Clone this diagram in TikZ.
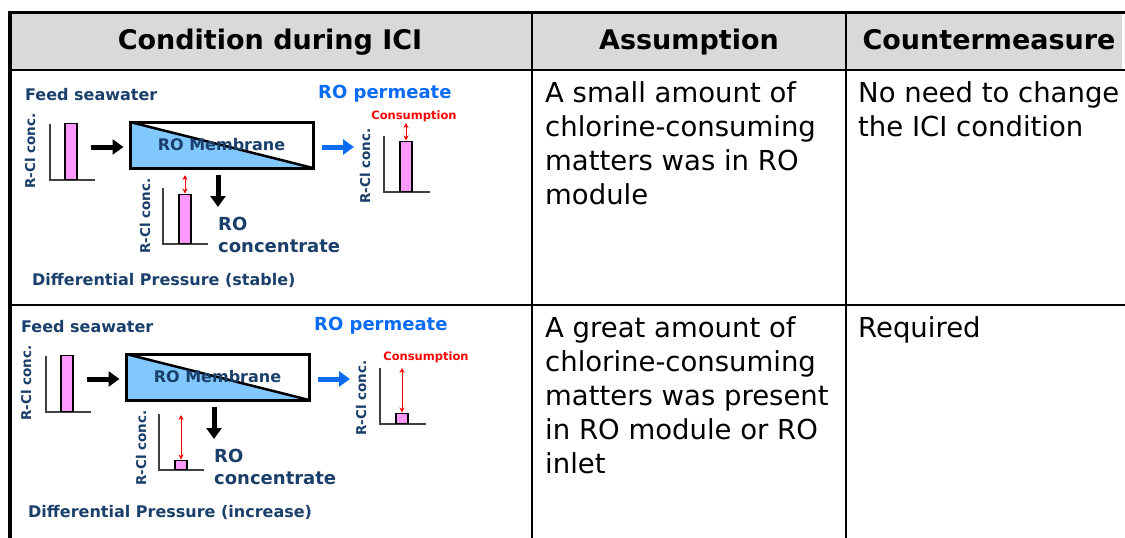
\documentclass[tikz,border=0pt]{standalone}
\usepackage{fontspec}
\setmainfont{DejaVu Sans}
\usepackage{tikz}
\usetikzlibrary{arrows.meta,positioning,calc}
\definecolor{NavyText}{HTML}{1A3F6B}
\definecolor{PermBlue}{HTML}{0A6CF5}
\definecolor{MemBlue}{HTML}{80C8FF}
\definecolor{BarPink}{HTML}{FF99FF}
\definecolor{HeadGray}{HTML}{D9D9D9}
\definecolor{AxisGray}{HTML}{404040}

\begin{document}
\begin{tikzpicture}[x=1pt,y=-1pt,
  hdr/.style={font=\fontsize{27}{30}\selectfont\bfseries,inner sep=0pt,anchor=base},
  body/.style={font=\fontsize{27.5}{34}\selectfont,align=left,anchor=north west,inner sep=0pt},
  lbl/.style={font=\fontsize{16}{20}\selectfont\bfseries,text=NavyText,inner sep=0pt},
  big/.style={lbl,font=\fontsize{18}{22}\selectfont\bfseries},
  ylbl/.style={lbl,font=\fontsize{13.5}{16}\selectfont\bfseries,rotate=90},
  cons/.style={font=\fontsize{11.5}{14}\selectfont\bfseries,text=red,inner sep=0pt},
  bar/.style={draw=black,fill=BarPink,line width=1.5pt,minimum width=12pt,inner sep=0pt,anchor=south},
  axis/.style={draw=AxisGray,line width=1.5pt},
  memb/.style={draw,line width=3pt,minimum width=183pt,minimum height=46pt,inner sep=0pt,
    font=\fontsize{16}{20}\selectfont\bfseries,text=NavyText,
    path picture={
      \fill[MemBlue] (path picture bounding box.north west) -- (path picture bounding box.south west)
        -- (path picture bounding box.south east) -- cycle;
      \draw[line width=2.5pt] (path picture bounding box.north west) -- (path picture bounding box.south east);}},
  arr/.style={-{Triangle[length=11pt,width=15pt]},line width=5pt},
  dbl/.style={{Stealth[length=5pt,width=5pt]}-{Stealth[length=5pt,width=5pt]},draw=red,line width=1pt}]
\useasboundingbox (0,0) rectangle (1125,538);
% table
\fill[HeadGray] (10,12) rectangle (1122,70);
\draw[line width=3pt] (8,12) -- (1125,12);
\draw[line width=4pt] (10,10.5) -- (10,538);
\draw[line width=2.5pt] (10,70) -- (1125,70);
\draw[line width=2pt] (10,305) -- (1125,305);
\draw[line width=2.5pt] (532,12) -- (532,538);
\draw[line width=2.5pt] (846,12) -- (846,538);
\node[hdr] (hcond) at (270,49) {Condition during ICI};
\node[hdr] (hasm) at (689,49) {Assumption};
\node[hdr] (hcnt) at (989,49) {Countermeasure};
% text cells
\node[body] (asm1) at (545,81) {A small amount of\\chlorine-consuming\\matters was in RO\\module};
\node[body] (cnt1) at (858,81) {No need to change\\the ICI condition};
\node[body] (asm2) at (545,316) {A great amount of\\chlorine-consuming\\matters was present\\in RO module or RO\\inlet};
\node[body] (cnt2) at (858,316) {Required};
% sketches
\foreach \r/\dx/\dy/\cb/\hc/\ct/\hp/\pt/\cx/\cy/\lab in
  {1/0/0/244/49/175/50/123/414/116/stable,
   2/-4/232/238/9/183/10/136/430/125/increase}{
  \begin{scope}[shift={(\dx,\dy)}]
    \node[lbl,anchor=base west] (feed\r) at (25,100) {Feed seawater};
    \node[big,anchor=base west,text=PermBlue] (perm\r) at (318,98) {RO permeate};
    \node[memb] (mem\r) at (221.5,145) {RO Membrane};
    % charts
    \draw[axis] (50,124) |- (95,180);
    \draw[axis] (163,\cb-56) |- (208,\cb);
    \draw[axis] (384,136) |- (430,192);
    \node[bar,minimum height=56pt] (fbar\r) at (71,180) {};
    \node[bar,minimum height=\hc pt] (cbar\r) at (185,\cb) {};
    \node[bar,minimum height=\hp pt] (pbar\r) at (406,192) {};
    \node[ylbl] (fy\r) at (30,151) {R-Cl conc.};
    \node[ylbl] (cy\r) at (145,216) {R-Cl conc.};
    \node[ylbl] (py\r) at (365,166) {R-Cl conc.};
    \node[cons] (con\r) at (\cx,\cy) {Consumption};
    \coordinate (ct\r) at (185,\ct);
    \coordinate (pt\r) at (406,\pt);
    \draw[dbl] (ct\r) -- (cbar\r.north);
    \draw[dbl] (pt\r) -- (pbar\r.north);
    % flows
    \coordinate (fa\r) at (91,147);
    \coordinate (pa\r) at (354,147);
    \coordinate (ca\r) at (218,207);
    \draw[arr,shorten >=5pt] (fa\r) -- (fa\r -| mem\r.west);
    \draw[arr,PermBlue,shorten <=7pt] (pa\r -| mem\r.east) -- (pa\r);
    \draw[arr,shorten <=5pt] (ca\r |- mem\r.south) -- (ca\r);
    \node[big,align=left,anchor=north west] (conc\r) at (218,216.5) {RO\\concentrate};
    \node[lbl,anchor=base west] (dp\r) at (32,285) {Differential Pressure (\lab)};
  \end{scope}
}
\end{tikzpicture}
\end{document}
